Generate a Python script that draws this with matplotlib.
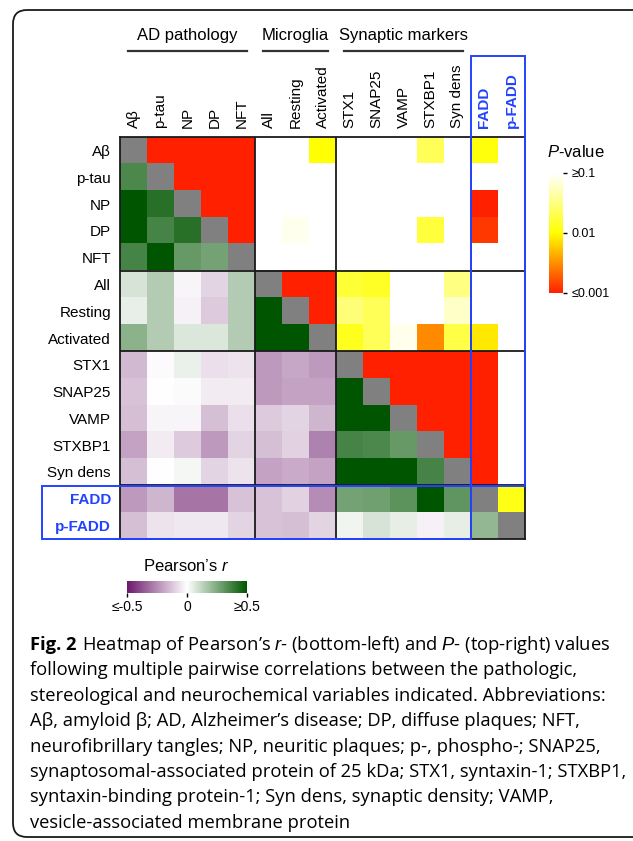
import numpy as np
import matplotlib
matplotlib.use("Agg")
import matplotlib.pyplot as plt
from matplotlib.colors import LinearSegmentedColormap, LogNorm, Normalize
from matplotlib.patches import Rectangle, FancyBboxPatch

plt.rcParams['font.family'] = ['Liberation Sans', 'DejaVu Sans']
plt.rcParams['mathtext.fontset'] = 'custom'
plt.rcParams['mathtext.it'] = 'Liberation Sans:italic'

labels = ["Aβ", "p-tau", "NP", "DP", "NFT", "All", "Resting", "Activated",
          "STX1", "SNAP25", "VAMP", "STXBP1", "Syn dens", "FADD", "p-FADD"]
groups = ["AD pathology", "Microglia", "Synaptic markers"]
group_spans = [(0, 5), (5, 8), (8, 13)]

# lower triangle: Pearson's r, row i -> columns 0..i-1
pearson_r = [
    [],
    [0.35],
    [0.55, 0.42],
    [0.55, 0.36, 0.42],
    [0.36, 0.55, 0.30, 0.27],
    [0.08, 0.15, -0.02, -0.09, 0.15],
    [0.045, 0.15, -0.03, -0.11, 0.15, 0.55],
    [0.225, 0.15, 0.07, 0.07, 0.15, 0.55, 0.55],
    [-0.15, -0.01, 0.04, -0.07, -0.06, -0.22, -0.19, -0.22],
    [-0.13, 0.0, 0.01, -0.04, -0.04, -0.22, -0.20, -0.20, 0.55],
    [-0.14, -0.02, -0.02, -0.14, -0.07, -0.11, -0.09, -0.16, 0.55, 0.55],
    [-0.20, -0.04, -0.11, -0.22, -0.09, -0.14, -0.10, -0.27, 0.36, 0.35, 0.30],
    [-0.14, 0.0, 0.02, -0.09, -0.06, -0.20, -0.18, -0.20, 0.55, 0.55, 0.55, 0.36],
    [-0.22, -0.16, -0.30, -0.30, -0.13, -0.13, -0.10, -0.25, 0.27, 0.28, 0.32, 0.55, 0.31],
    [-0.14, -0.06, -0.05, -0.05, -0.09, -0.13, -0.14, -0.09, 0.03, 0.08, 0.05, -0.03, 0.05, 0.21],
]

# upper triangle: P-values, row i -> columns i+1..14
p_values = [
    [0.0005, 0.0005, 0.0005, 0.0005, 0.5, 0.5, 0.01, 0.5, 0.5, 0.5, 0.022, 0.5, 0.011, 0.5],
    [0.0005, 0.0005, 0.0005, 0.5, 0.5, 0.5, 0.5, 0.5, 0.5, 0.5, 0.5, 0.5, 0.5],
    [0.0005, 0.0005, 0.5, 0.5, 0.5, 0.5, 0.5, 0.5, 0.5, 0.5, 0.001, 0.5],
    [0.0005, 0.5, 0.085, 0.5, 0.5, 0.5, 0.5, 0.017, 0.5, 0.0013, 0.5],
    [0.5, 0.5, 0.5, 0.5, 0.5, 0.5, 0.5, 0.5, 0.5, 0.5],
    [0.0005, 0.0005, 0.016, 0.014, 0.5, 0.5, 0.032, 0.5, 0.5],
    [0.0005, 0.029, 0.022, 0.5, 0.5, 0.061, 0.5, 0.5],
    [0.013, 0.022, 0.083, 0.003, 0.019, 0.008, 0.5],
    [0.0005, 0.0005, 0.0005, 0.0005, 0.0005, 0.5],
    [0.0005, 0.0005, 0.0005, 0.0005, 0.5],
    [0.0005, 0.0005, 0.0005, 0.5],
    [0.0005, 0.0005, 0.5],
    [0.0005, 0.5],
    [0.012],
    [],
]

caption_head = "Fig. 2"
caption = [
    r"Heatmap of Pearson’s $\mathit{r}$- (bottom-left) and $\mathit{P}$- (top-right) values",
    "following multiple pairwise correlations between the pathologic,",
    "stereological and neurochemical variables indicated. Abbreviations:",
    "Aβ, amyloid β; AD, Alzheimer’s disease; DP, diffuse plaques; NFT,",
    "neurofibrillary tangles; NP, neuritic plaques; p-, phospho-; SNAP25,",
    "synaptosomal-associated protein of 25 kDa; STX1, syntaxin-1; STXBP1,",
    "syntaxin-binding protein-1; Syn dens, synaptic density; VAMP,",
    "vesicle-associated membrane protein",
]

n = len(labels)
r_mat = np.full((n, n), np.nan)
p_mat = np.full((n, n), np.nan)
for i, row in enumerate(pearson_r):
    r_mat[i, :i] = row
for i, row in enumerate(p_values):
    p_mat[i, i + 1:] = row
diag = np.where(np.eye(n) > 0, 1.0, np.nan)

r_cmap = LinearSegmentedColormap.from_list("r", ["#6b1a6b", "#ffffff", "#005500"])
p_cmap = LinearSegmentedColormap.from_list("p", ["#ff2000", "#ffff00", "#ffffff"])
grey_cmap = LinearSegmentedColormap.from_list("g", ["#808080", "#808080"])
r_norm = Normalize(-0.5, 0.5)
p_norm = LogNorm(1e-3, 1e-1)
blue = "#2343ff"

W, H = 633, 841
fig = plt.figure(figsize=(W / 100, H / 100), dpi=100)

# heatmap
x0, y0, x1, y1 = 120, 137, 525, 539
ax = fig.add_axes([x0 / W, 1 - y1 / H, (x1 - x0) / W, (y1 - y0) / H])
ax.imshow(r_mat, cmap=r_cmap, norm=r_norm, aspect="auto", interpolation="nearest")
ax.imshow(np.clip(p_mat, 1e-3, 1e-1), cmap=p_cmap, norm=p_norm, aspect="auto", interpolation="nearest")
ax.imshow(diag, cmap=grey_cmap, aspect="auto", interpolation="nearest")
ax.set_xticks(range(n))
ax.set_yticks(range(n))
ax.set_xticklabels(labels, rotation=90, fontsize=11)
ax.set_yticklabels(labels, fontsize=11)
ax.xaxis.tick_top()
ax.tick_params(length=0, pad=6.5)
for t in ax.get_xticklabels()[13:] + ax.get_yticklabels()[13:]:
    t.set_color(blue)
    t.set_fontweight("bold")
for b in [4.5, 7.5, 12.5]:
    ax.axvline(b, color="#1a1a1a", lw=1.3)
    ax.axhline(b, color="#1a1a1a", lw=1.3)
for s in ax.spines.values():
    s.set_color("#1a1a1a")
    s.set_linewidth(1.3)

# P-value colorbar
cax = fig.add_axes([549 / W, 1 - 293 / H, 14 / W, 120 / H])
cb = fig.colorbar(plt.cm.ScalarMappable(norm=p_norm, cmap=p_cmap), cax=cax)
cb.outline.set_visible(False)
cb.set_ticks([1e-1, 1e-2, 1e-3])
cb.set_ticklabels(["≥0.1", "0.01", "≤0.001"])
cb.minorticks_off()
cax.tick_params(length=3, width=1, pad=3, labelsize=9)

# Pearson colorbar
rax = fig.add_axes([127 / W, 1 - 593 / H, 120 / W, 12 / H])
cb2 = fig.colorbar(plt.cm.ScalarMappable(norm=r_norm, cmap=r_cmap), cax=rax, orientation="horizontal")
cb2.outline.set_visible(False)
cb2.set_ticks([-0.5, 0, 0.5])
cb2.set_ticklabels(["≤-0.5", "0", "≥0.5"])
rax.tick_params(length=3, width=1, pad=2, labelsize=10)

# overlay in pixel coordinates
bg = fig.add_axes([0, 0, 1, 1], zorder=5)
bg.set_xlim(0, W)
bg.set_ylim(H, 0)
bg.axis("off")

bg.add_patch(FancyBboxPatch((13, 10), 660, 827, boxstyle="round,pad=0,rounding_size=14",
                            fill=False, ec="#1a1a1a", lw=1.3, clip_on=False))

for name, (a, b) in zip(groups, group_spans):
    xa, xb = x0 + a * 27, x0 + b * 27
    bg.text((xa + xb) / 2, 35, name, ha="center", va="center", fontsize=12)
    bg.plot([xa + 8, xb - 8], [51, 51], color="#333333", lw=1.6)

bg.add_patch(Rectangle((471, 56), 54, 429.5, fill=False, ec=blue, lw=1.4))
bg.add_patch(Rectangle((42, 485.5), 429, 53.5, fill=False, ec=blue, lw=1.4))

bg.text(576, 152, r"$\mathit{P}$-value", ha="center", va="center", fontsize=12)
bg.text(186, 566, r"Pearson’s $\mathit{r}$", ha="center", va="center", fontsize=12)

cap_font = ["Open Sans", "DejaVu Sans"]
head = bg.text(30, 645, caption_head, ha="left", va="center", fontsize=13.2,
               fontweight="bold", family=cap_font)
renderer = fig.canvas.get_renderer()
head_end = head.get_window_extent(renderer).x1
for k, line in enumerate(caption):
    x = head_end + 5 if k == 0 else 30
    bg.text(x, 645 + k * 25.4, line, ha="left", va="center", fontsize=13.2, family=cap_font)

fig.savefig("out.png", dpi=100, facecolor="white")
